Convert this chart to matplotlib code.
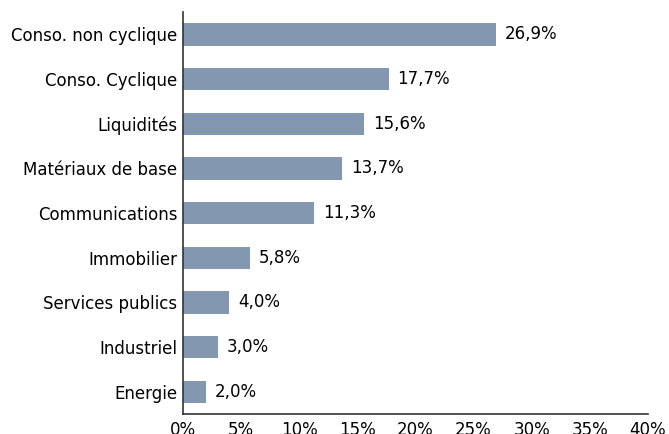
import matplotlib
matplotlib.use("Agg")
import matplotlib.pyplot as plt
from matplotlib.ticker import FuncFormatter

plt.rcParams["font.family"] = ["DejaVu Sans"]

# Sector weights (%)
sectors = ["Conso. non cyclique", "Conso. Cyclique", "Liquidités", "Matériaux de base",
           "Communications", "Immobilier", "Services publics", "Industriel", "Energie"]
weights = [26.9, 17.7, 15.6, 13.7, 11.3, 5.8, 4.0, 3.0, 2.0]
x_ticks = [0, 5, 10, 15, 20, 25, 30, 35, 40]

fig = plt.figure(figsize=(6.69, 4.34), dpi=100)
ax = fig.add_axes([0.2735, 0.046, 0.6951, 0.926])

pos = list(range(len(sectors)))
ax.barh(pos, weights, height=0.5, color="#8497b0")
for p, w in zip(pos, weights):
    ax.text(w + 0.75, p, f"{w:.1f}%".replace(".", ","), va="center", ha="left", fontsize=12)

ax.set_yticks(pos)
ax.set_yticklabels(sectors, fontsize=12)
ax.set_ylim(len(sectors) - 0.5, -0.5)
ax.set_xlim(0, 40)
ax.set_xticks(x_ticks)
ax.xaxis.set_major_formatter(FuncFormatter(lambda v, _: f"{v:.0f}%"))
ax.tick_params(axis="both", length=0, labelsize=12)
ax.tick_params(axis="x", pad=5)
ax.tick_params(axis="y", pad=4)

for s in ["top", "right"]:
    ax.spines[s].set_visible(False)
for s in ["left", "bottom"]:
    ax.spines[s].set_color("#333333")
    ax.spines[s].set_linewidth(1.2)

fig.savefig("out.png", dpi=100)
